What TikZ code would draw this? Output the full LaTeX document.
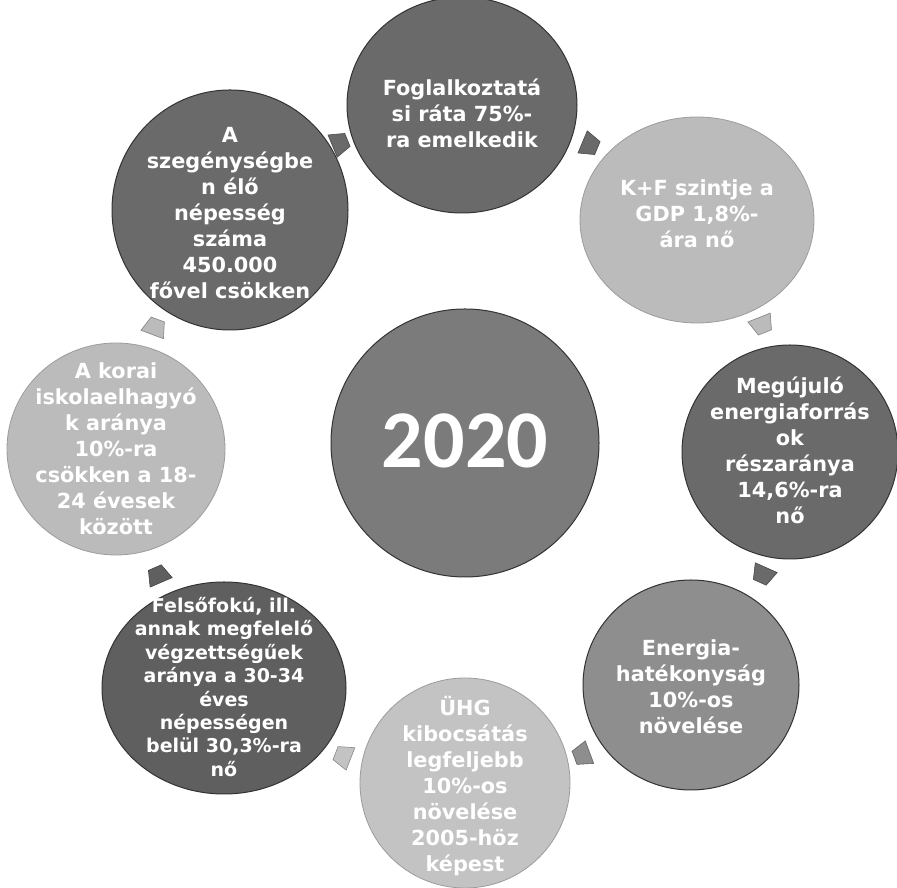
\documentclass[tikz,border=0pt]{standalone}
\usepackage{fontspec}
\setmainfont{DejaVu Sans}
\newfontfamily\yearfont{Carlito}
\usetikzlibrary{shapes.geometric}
\definecolor{cdark}{HTML}{6A6A6A}
\definecolor{cdarker}{HTML}{5F5F5F}
\definecolor{cmid}{HTML}{8E8E8E}
\definecolor{ccenter}{HTML}{7B7B7B}
\definecolor{clight}{HTML}{BBBBBB}
\definecolor{clight2}{HTML}{C3C3C3}
\definecolor{edgelight}{HTML}{9C9C9C}
\tikzset{
  goal/.style={ellipse, inner sep=0pt, line width=1pt},
  darkgoal/.style={goal, fill=#1, draw=black!80},
  lightgoal/.style={goal, fill=#1, draw=edgelight, line width=0.8pt},
  txt/.style={text=white, font=\bfseries\fontsize{20.8}{26}\selectfont, align=center, inner sep=0pt},
  smalltxt/.style={txt, font=\bfseries\fontsize{19}{23.4}\selectfont},
  yeartxt/.style={text=white, font=\yearfont\bfseries\fontsize{82}{84}\selectfont, inner sep=0pt},
  pics/cyclearrow/.style={code={
    \path[fill=#1, draw=#1!70!black, line width=0.6pt]
      (-8,-12) -- (8,-7) -- (8,7) -- (-8,12) -- cycle;}}
}
\begin{document}
\begin{tikzpicture}[x=1pt,y=1pt]
\useasboundingbox (0,0) rectangle (897,888);
\fill[white] (0,0) rectangle (897,888);

% center
\node[darkgoal=ccenter, minimum width=268pt, minimum height=268pt] (C) at (465,445) {};
\node[yeartxt] (tC) at ([yshift=2pt]C.center) {2020};

% outer goals
\node[darkgoal=cdark, minimum width=230pt, minimum height=216pt] (g1) at (462,783) {};
\node[lightgoal=clight, minimum width=234pt, minimum height=206pt] (g2) at (697,668) {};
\node[darkgoal=cdark, minimum width=216pt, minimum height=214pt] (g3) at (790,436) {};
\node[darkgoal=cmid, minimum width=216pt, minimum height=210pt] (g4) at (691,203) {};
\node[lightgoal=clight2, minimum width=210pt, minimum height=210pt] (g5) at (465,105) {};
\node[darkgoal=cdarker, minimum width=244pt, minimum height=212pt] (g6) at (224,200) {};
\node[lightgoal=clight, minimum width=218pt, minimum height=212pt] (g7) at (116,439) {};
\node[darkgoal=cdark, minimum width=236pt, minimum height=240pt] (g8) at (230,678) {};

% texts
\node[txt] (t1) at ([yshift=-8pt]g1.center) {Foglalkoztatá\\si ráta 75\%-\\ra emelkedik};
\node[txt] (t2) at ([yshift=6pt]g2.center) {K+F szintje a\\GDP 1,8\%-\\ára nő};
\node[txt] (t3) at ([yshift=2pt]g3.center) {Megújuló\\energiaforrás\\ok\\részaránya\\14,6\%-ra\\nő};
\node[txt] (t4) at ([yshift=-2pt]g4.center) {Energia-\\hatékonyság\\10\%-os\\növelése};
\node[txt] (t5) at ([yshift=-3pt]g5.center) {ÜHG\\kibocsátás\\legfeljebb\\10\%-os\\növelése\\2005-höz\\képest};
\node[smalltxt] (t6) at ([yshift=1pt]g6.center) {Felsőfokú, ill.\\annak megfelelő\\végzettségűek\\aránya a 30-34\\éves\\népességen\\belül 30,3\%-ra\\nő};
\node[txt] (t7) at (g7.center) {A korai\\iskolaelhagyó\\k aránya\\10\%-ra\\csökken a 18-\\24 évesek\\között};
\node[txt] (t8) at ([yshift=-3pt]g8.center) {A\\szegénységbe\\n élő\\népesség\\száma\\450.000\\fővel csökken};

% cycle arrows (clockwise)
\pic[rotate=22.6] at (340,745) {cyclearrow=cdark};
\pic[rotate=-22.8] at (590,743) {cyclearrow=cdark};
\pic[rotate=-68.3] at (762,563) {cyclearrow=clight};
\pic[rotate=-113.9] at (763,313) {cyclearrow=cdark};
\pic[rotate=-159.4] at (582,133) {cyclearrow=cmid};
\pic[rotate=158.7] at (343,132) {cyclearrow=clight2};
\pic[rotate=113.3] at (158,313) {cyclearrow=cdarker};
\pic[rotate=69.5] at (155,561) {cyclearrow=clight};
\end{tikzpicture}
\end{document}
